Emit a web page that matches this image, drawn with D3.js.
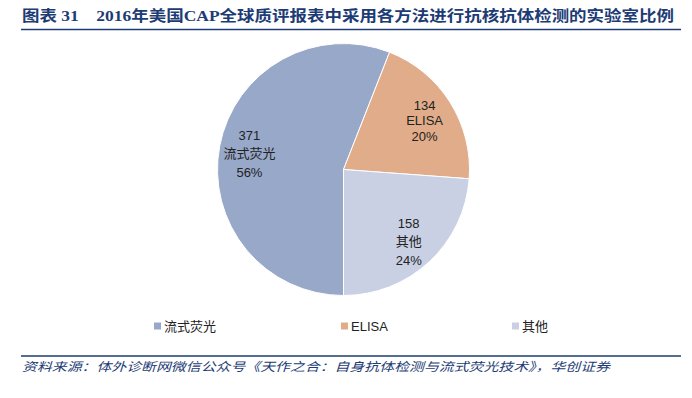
<!DOCTYPE html>
<html>
<head>
<meta charset="utf-8">
<script src="https://cdn.jsdelivr.net/npm/d3@7"></script>
<style>
  body { margin: 0; background: #fff; }
  svg { display: block; }
</style>
</head>
<body>
<div id="chart"></div>
<script>
// data
var categories = ["流式荧光", "ELISA", "其他"];
var counts = [371, 134, 158];
var colors = ["#98A8C9", "#E0AC8A", "#C9D0E4"];

var svgWidth = 692;
var svgHeight = 398;

var svg = d3.select("#chart")
    .append("svg")
    .attr("width", svgWidth)
    .attr("height", svgHeight);

// title
svg.append("text")
    .attr("x", 22)
    .attr("y", 21)
    .attr("textLength", 652)
    .attr("lengthAdjust", "spacingAndGlyphs")
    .attr("fill", "#1D3B75")
    .attr("font-family", "'Liberation Serif', 'Noto Sans CJK SC', serif")
    .attr("font-weight", "bold")
    .attr("font-size", "15px")
    .style("white-space", "pre")
    .text("图表 31    2016年美国CAP全球质评报表中采用各方法进行抗核抗体检测的实验室比例");

svg.append("line")
    .attr("x1", 21).attr("x2", 681)
    .attr("y1", 29.5).attr("y2", 29.5)
    .attr("stroke", "#1D3B75")
    .attr("stroke-width", 1.5);

// pie
var cx = 343.5, cy = 169.5, radius = 126;
var total = d3.sum(counts);
var dataset = categories.map(function(c, i) {
    return { name: c, value: counts[i], color: colors[i] };
});

var pie = d3.pie()
    .value(d => d.value)
    .sort(null)
    .startAngle(Math.PI)
    .endAngle(3 * Math.PI);

var arc = d3.arc().innerRadius(0).outerRadius(radius);
var labelArc = d3.arc().innerRadius(radius * 0.76).outerRadius(radius * 0.76);

var pieGroup = svg.append("g")
    .attr("transform", `translate(${cx}, ${cy})`);

var arcs = pie(dataset);

pieGroup.selectAll("path")
    .data(arcs)
    .enter()
    .append("path")
    .attr("d", arc)
    .attr("fill", d => d.data.color)
    .attr("stroke", "#fff")
    .attr("stroke-width", 1);

var labels = pieGroup.selectAll("g.label")
    .data(arcs)
    .enter()
    .append("g")
    .attr("class", "label")
    .attr("transform", d => {
        var c = labelArc.centroid(d);
        return `translate(${c[0]}, ${c[1] + 2})`;
    });

labels.each(function(d) {
    var g = d3.select(this);
    var pct = Math.round(d.data.value / total * 100) + "%";
    var lines = [String(d.data.value), d.data.name, pct];
    // CJK lines are taller than latin ones
    var gap = /[\u4e00-\u9fff]/.test(d.data.name) ? 18.5 : 15.5;
    lines.forEach(function(t, i) {
        g.append("text")
            .attr("x", 0)
            .attr("y", (i - 1) * gap)
            .attr("dy", "0.35em")
            .attr("text-anchor", "middle")
            .attr("font-family", "'Liberation Sans', 'Noto Sans CJK SC', sans-serif")
            .attr("font-size", "13px")
            .attr("fill", "#222")
            .text(t);
    });
});

// legend
var legendX = [154, 341, 512];
var legend = svg.selectAll("g.legend")
    .data(dataset)
    .enter()
    .append("g")
    .attr("class", "legend")
    .attr("transform", (d, i) => `translate(${legendX[i]}, 326)`);

legend.append("rect")
    .attr("x", 0).attr("y", -3.5)
    .attr("width", 7).attr("height", 7)
    .attr("fill", d => d.color);

legend.append("text")
    .attr("x", 10)
    .attr("dy", "0.35em")
    .attr("font-family", "'Liberation Sans', 'Noto Sans CJK SC', sans-serif")
    .attr("font-size", "13px")
    .attr("fill", "#222")
    .text(d => d.name);

// source
svg.append("line")
    .attr("x1", 21).attr("x2", 681)
    .attr("y1", 356).attr("y2", 356)
    .attr("stroke", "#1D3B75")
    .attr("stroke-width", 1.5);

svg.append("text")
    .attr("x", 22)
    .attr("y", 371)
    .attr("fill", "#1D3B75")
    .attr("font-family", "'Noto Sans CJK SC', sans-serif")
    .attr("font-style", "italic")
    .attr("font-size", "12px")
    .attr("textLength", 588)
    .attr("lengthAdjust", "spacingAndGlyphs")
    .text("资料来源：体外诊断网微信公众号《天作之合：自身抗体检测与流式荧光技术》，华创证券");
</script>
</body>
</html>
